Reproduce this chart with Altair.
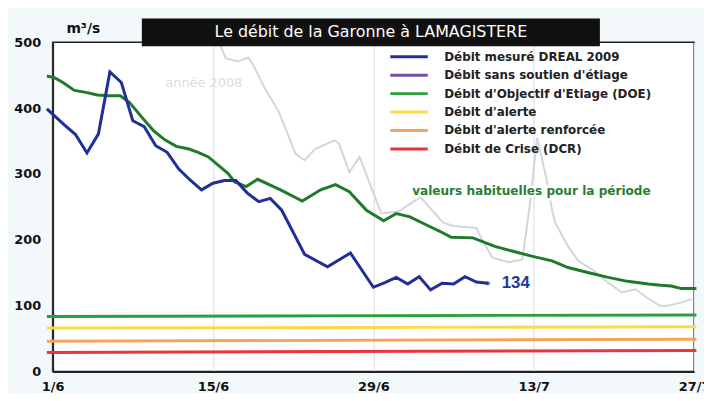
import altair as alt
import pandas as pd

# ---- data (day 0 = 1/6) ----
tick_jours = [0, 14, 28, 42, 56]
tick_labels = ["1/6", "15/6", "29/6", "13/7", "27/7"]

# Débit mesuré DREAL 2009
jours_mesure = [-0.5, 1, 2, 3, 4, 5, 6, 7, 8, 9, 10, 11, 12, 13, 14, 15, 16, 17, 18, 19,
                20, 22, 24, 26, 28, 29, 30, 31, 32, 33, 34, 35, 36, 37, 38]
debit_mesure = [399, 375, 360, 332, 361, 455, 439, 381, 372, 343, 333, 308, 291, 276, 286, 290,
                290, 271, 258, 263, 245, 178, 159, 180, 128, 135, 143, 133, 144, 124, 134, 133,
                144, 136, 134]

# valeurs habituelles pour la période
jours_hab = [-0.5, 0.2, 0.9, 1.9, 2.9, 3.9, 4.9, 5.9, 6.7, 7.8, 8.8, 9.8, 10.8, 11.9, 12.7, 13.6,
             15.3, 15.9, 16.9, 17.9, 19.9, 21.8, 23.4, 24.7, 25.9, 27.4, 28.9, 30.0, 31.2, 32.6,
             33.8, 34.8, 36.7, 38.6, 40.1, 41.9, 43.6, 45.0, 46.8, 48.5, 50.2, 52.0, 53.1, 54.0,
             54.9, 56.2]
debit_hab = [449, 446, 439, 427, 424, 420, 419, 419, 409, 386, 366, 352, 342, 338, 333, 326,
             301, 288, 281, 292, 276, 259, 276, 284, 273, 245, 229, 240, 235, 223,
             213, 204, 203, 190, 183, 175, 168, 158, 150, 143, 137, 133, 131, 130,
             126, 126]

# année 2008
jours_2008 = [14.6, 15.1, 16.2, 17.1, 17.5, 18.5, 19.7, 20.3, 21.2, 22.0, 22.9, 24.6, 25.0, 25.9,
              26.8, 27.9, 28.7, 30.2, 32.1, 34.1, 35.0, 37.0, 37.5, 38.4, 39.8, 41.0, 41.6, 42.3,
              43.2, 43.6, 43.9, 45.0, 45.9, 47.1, 48.5, 49.7, 50.9, 51.9, 53.0, 53.7, 54.9, 55.8]
debit_2008 = [498, 476, 471, 477, 466, 431, 396, 371, 331, 321, 338, 351, 346, 303,
              326, 276, 240, 243, 265, 226, 221, 218, 200, 173, 166, 170, 245, 355,
              286, 245, 225, 190, 168, 155, 135, 120, 125, 112, 100, 100, 105, 110]

# seuils (début, fin)
seuil_jours = [-0.5, 56.2]
debit_doe = [83.5, 86]
debit_alerte = [66, 68]
debit_alerte_renf = [46, 49]
debit_crise = [29, 32]

series_names = ["Débit mesuré DREAL 2009", "Débit sans soutien d'étiage",
                "Débit d'Objectif d'Etiage (DOE)", "Débit d'alerte",
                "Débit d'alerte renforcée", "Débit de Crise (DCR)"]
series_colors = ["#1f2f96", "#7a4aa8", "#2aa03c", "#ffd84a", "#f6a25c", "#ea3440"]

# ---- tables ----
rows = []
for j, v in zip(jours_mesure, debit_mesure):
    rows.append({"jour": j, "debit": v, "serie": series_names[0]})
for name, vals in zip(series_names[2:], [debit_doe, debit_alerte, debit_alerte_renf, debit_crise]):
    for j, v in zip(seuil_jours, vals):
        rows.append({"jour": j, "debit": v, "serie": name})
df_series = pd.DataFrame(rows)
df_hab = pd.DataFrame({"jour": jours_hab, "debit": debit_hab})
df_2008 = pd.DataFrame({"jour": jours_2008, "debit": debit_2008})

FONT = "DejaVu Sans"
label_expr = " : ".join(f"datum.value == {d} ? '{l}'" for d, l in zip(tick_jours, tick_labels)) + " : ''"

x_enc = alt.X("jour:Q", scale=alt.Scale(domain=[0, 56], nice=False, zero=False),
              axis=alt.Axis(values=tick_jours, labelExpr=label_expr, title=None, grid=True,
                            gridColor="#e6e6ec", gridWidth=1.5, ticks=False,
                            labelFont=FONT, labelFontWeight="bold", labelFontSize=13,
                            labelColor="#111", labelPadding=9, domainColor="#222",
                            domainWidth=2, labelFlush=False))
y_enc = alt.Y("debit:Q", scale=alt.Scale(domain=[0, 500], nice=False),
              axis=alt.Axis(values=[0, 100, 200, 300, 400, 500], title=None, grid=False,
                            ticks=False, labelFont=FONT, labelFontWeight="bold",
                            labelFontSize=13, labelColor="#111", labelPadding=12,
                            domainColor="#222", domainWidth=2))

gray = alt.Chart(df_2008).mark_line(color="#d4d4de", strokeWidth=2).encode(
    x=x_enc, y=y_enc, order="jour:Q")

hab = alt.Chart(df_hab).mark_line(color="#1f7a2e", strokeWidth=3).encode(
    x="jour:Q", y="debit:Q", order="jour:Q")

lines = alt.Chart(df_series).mark_line(strokeWidth=3).encode(
    x="jour:Q", y="debit:Q", order="jour:Q",
    color=alt.Color("serie:N",
                    scale=alt.Scale(domain=series_names, range=series_colors),
                    sort=series_names,
                    legend=alt.Legend(title=None, orient="none", legendX=351, legendY=6,
                                      symbolType="M-2.7,0L2.7,0", symbolSize=196,
                                      symbolStrokeWidth=3, labelFont=FONT,
                                      labelFontWeight="bold", labelFontSize=12,
                                      labelColor="#222", labelOffset=27, rowPadding=3.6,
                                      labelLimit=400)))

end_pt = alt.Chart(pd.DataFrame({"jour": [jours_mesure[-1]], "debit": [debit_mesure[-1]]})).mark_point(
    filled=True, color="#1f2f96", size=18).encode(x="jour:Q", y="debit:Q")

end_lbl = alt.Chart(pd.DataFrame({"jour": [39.2], "debit": [debit_mesure[-1]],
                                  "t": [str(debit_mesure[-1])]})).mark_text(
    align="left", baseline="middle", font="Liberation Sans", fontWeight="bold",
    fontSize=17, color="#1f3a9a").encode(x="jour:Q", y="debit:Q", text="t:N")

hab_df = pd.DataFrame({"jour": [41.8], "debit": [274],
                       "t": ["valeurs habituelles pour la période"]})
hab_halo = alt.Chart(hab_df).mark_text(
    align="center", baseline="middle", font=FONT, fontWeight="bold", fontSize=12.2,
    color="white", stroke="white", strokeWidth=5).encode(x="jour:Q", y="debit:Q", text="t:N")
hab_lbl = alt.Chart(hab_df).mark_text(
    align="center", baseline="middle", font=FONT, fontWeight="bold", fontSize=12.2,
    color="#2a7d35").encode(x="jour:Q", y="debit:Q", text="t:N")

an_lbl = alt.Chart(pd.DataFrame({"jour": [13.2], "debit": [438], "t": ["année 2008"]})).mark_text(
    align="center", baseline="middle", font=FONT, fontSize=13, color="#dcdce4").encode(
    x="jour:Q", y="debit:Q", text="t:N")

one = pd.DataFrame({"a": [0]})
title_box = alt.Chart(one).mark_rect(color="#111111").encode(
    x=alt.value(90), x2=alt.value(552), y=alt.value(-24), y2=alt.value(4))
title_txt = alt.Chart(pd.DataFrame({"t": ["Le débit de la Garonne à LAMAGISTERE"]})).mark_text(
    align="center", baseline="middle", font=FONT, fontSize=16, color="white").encode(
    x=alt.value(321), y=alt.value(-10), text="t:N")
unit_txt = alt.Chart(pd.DataFrame({"t": ["m³/s"]})).mark_text(
    align="center", baseline="middle", font=FONT, fontWeight="bold", fontSize=14,
    color="#111").encode(x=alt.value(31), y=alt.value(-13), text="t:N")

chart = alt.layer(gray, hab, lines, end_pt, end_lbl, hab_halo, hab_lbl, an_lbl,
                  title_box, title_txt, unit_txt).properties(
    width=647, height=332,
    autosize=alt.AutoSizeParams(type="none"),
    padding={"left": 45, "top": 33, "right": 10, "bottom": 20},
    background="#f3f9fb",
).configure_view(stroke="#222", strokeWidth=1.5, fill="white")

chart.save("out.html", embed_options={"renderer": "svg", "actions": False})
